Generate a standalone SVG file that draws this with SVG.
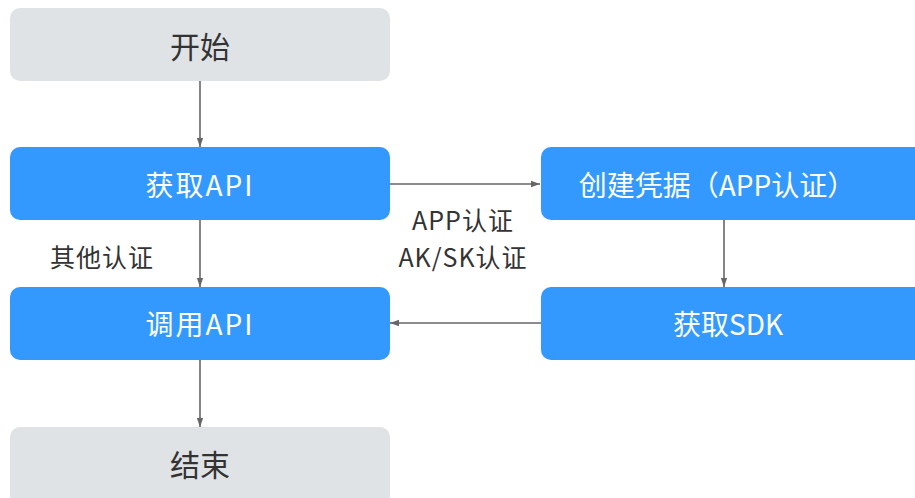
<svg xmlns="http://www.w3.org/2000/svg" width="915" height="498" viewBox="0 0 915 498">
<defs>
<marker id="ah" viewBox="0 0 10 10" refX="10" refY="5" markerWidth="9" markerHeight="9" markerUnits="userSpaceOnUse" orient="auto">
<path d="M0,1.5 L10,5 L0,8.5 z" fill="#666"/>
</marker>
<style>
.g{fill:#e0e3e5}
.b{fill:#3399ff}
.t{font-family:"Noto Sans CJK SC","Noto Sans",sans-serif;font-size:28px;text-anchor:middle;dominant-baseline:central}
.dk{fill:#333;font-size:30px}
.wt{fill:#fff}
.sp{letter-spacing:2px}
.lb{font-family:"Noto Sans CJK SC","Noto Sans",sans-serif;font-size:25px;letter-spacing:1px;fill:#333;text-anchor:middle;dominant-baseline:central}
.c{stroke:#666;stroke-width:1.6;fill:none;marker-end:url(#ah)}
</style>
</defs>
<rect width="915" height="498" fill="#fff"/>
<g id="connectors">
<line class="c" x1="200" y1="81" x2="200" y2="147"/>
<line class="c" x1="390" y1="184" x2="540" y2="184"/>
<line class="c" x1="724" y1="220" x2="724" y2="287"/>
<line class="c" x1="541" y1="323" x2="390" y2="323"/>
<line class="c" x1="200" y1="220" x2="200" y2="287"/>
<line class="c" x1="200" y1="360" x2="200" y2="427"/>
</g>
<g id="start"><rect class="g" x="10" y="8" width="380" height="73" rx="10"/><text class="t dk" x="200" y="45">开始</text></g>
<g id="getapi"><rect class="b" x="10" y="147" width="380" height="73" rx="10"/><text class="t wt sp" x="200" y="184">获取API</text></g>
<g id="callapi"><rect class="b" x="10" y="287" width="380" height="73" rx="10"/><text class="t wt sp" x="200" y="323">调用API</text></g>
<g id="end"><rect class="g" x="10" y="427" width="380" height="80" rx="10"/><text class="t dk" x="200" y="463">结束</text></g>
<g id="cred"><rect class="b" x="541" y="147" width="390" height="73" rx="10"/><text class="t wt" x="717" y="184">创建凭据（APP认证）</text></g>
<g id="sdk"><rect class="b" x="541" y="287" width="390" height="73" rx="10"/><text class="t wt" x="728" y="323">获取SDK</text></g>
<g id="labels">
<text class="lb" x="463" y="219">APP认证</text>
<text class="lb" x="463" y="256">AK/SK认证</text>
<text class="lb" x="102" y="256">其他认证</text>
</g>
</svg>
